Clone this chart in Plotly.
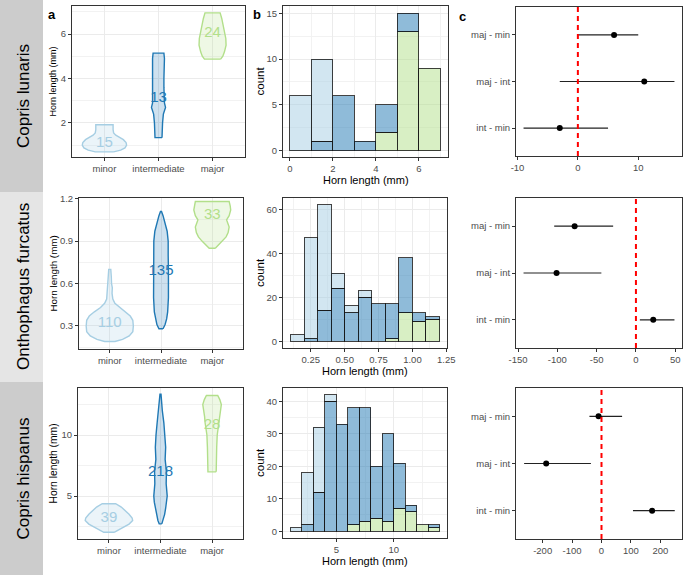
import plotly.graph_objects as go

W, H = 685, 575
FONT = "Liberation Sans, Arial, sans-serif"

species = ["Copris lunaris", "Onthophagus furcatus", "Copris hispanus"]
groups = ["minor", "intermediate", "major"]
comparisons = ["maj - min", "maj - int", "int - min"]
hist_title = "Horn length (mm)"
violin_title = "Horn length (mm)"

group_line = ["#a6cee3", "#1f78b4", "#b2df8a"]
group_fill = ["rgba(166,206,227,0.22)", "rgba(31,120,180,0.22)", "rgba(178,223,138,0.22)"]
bar_fill = ["rgba(166,206,227,0.5)", "rgba(31,120,180,0.5)", "rgba(178,223,138,0.5)"]

# ---------------- Copris lunaris ----------------
cl_n = [15, 13, 24]
cl_n_y = [1.07, 3.1, 6.05]
cl_minor_y = [0.70, 0.78, 0.88, 1.00, 1.12, 1.25, 1.35, 1.45, 1.55, 1.70, 1.92]
cl_minor_w = [0.17, 0.30, 0.38, 0.41, 0.40, 0.35, 0.28, 0.21, 0.17, 0.16, 0.16]
cl_inter_y = [1.34, 1.6, 2.0, 2.4, 2.7, 2.9, 3.2, 3.6, 4.0, 4.5, 4.9, 5.14]
cl_inter_w = [0.065, 0.065, 0.075, 0.09, 0.13, 0.11, 0.10, 0.10, 0.10, 0.11, 0.11, 0.10]
cl_major_y = [4.87, 5.0, 5.2, 5.5, 5.8, 6.1, 6.4, 6.7, 6.95]
cl_major_w = [0.15, 0.19, 0.22, 0.25, 0.245, 0.22, 0.20, 0.17, 0.14]
cl_bin_edges = [0, 1, 2, 3, 4, 5, 6, 7]
cl_hist_minor = [6, 9, 0, 0, 0, 0, 0]
cl_hist_inter = [0, 1, 6, 1, 3, 2, 0]
cl_hist_major = [0, 0, 0, 0, 2, 13, 9]
cl_est = [6, 11, -3]
cl_lo = [0, -3, -9]
cl_hi = [10, 16, 5]
cl_comp_ticks = [-10, 0, 10]

# ---------------- Onthophagus furcatus ----------------
of_n = [110, 135, 33]
of_n_y = [0.32, 0.69, 1.08]
of_minor_y = [0.19, 0.205, 0.23, 0.26, 0.30, 0.34, 0.37, 0.40, 0.43, 0.46, 0.49, 0.53, 0.57, 0.60, 0.65, 0.70]
of_minor_w = [0.10, 0.25, 0.38, 0.45, 0.46, 0.45, 0.40, 0.30, 0.18, 0.10, 0.06, 0.045, 0.05, 0.035, 0.03, 0.02]
of_inter_y = [0.28, 0.31, 0.35, 0.40, 0.50, 0.60, 0.70, 0.80, 0.90, 0.97, 1.03, 1.08, 1.11]
of_inter_w = [0.04, 0.08, 0.11, 0.13, 0.145, 0.15, 0.145, 0.14, 0.14, 0.12, 0.08, 0.04, 0.01]
of_major_y = [0.85, 0.87, 0.90, 0.93, 0.96, 1.00, 1.03, 1.05, 1.08, 1.12, 1.15, 1.18]
of_major_w = [0.06, 0.11, 0.20, 0.27, 0.31, 0.33, 0.30, 0.28, 0.33, 0.36, 0.35, 0.33]
of_bin_edges = [0.1, 0.2, 0.3, 0.4, 0.5, 0.6, 0.7, 0.8, 0.9, 1.0, 1.1, 1.2]
of_hist_minor = [3, 46, 48, 7, 3, 3, 0, 0, 0, 0, 0]
of_hist_inter = [0, 1, 14, 24, 13, 20, 17, 16, 25, 4, 1]
of_hist_major = [0, 0, 0, 0, 0, 0, 0, 1, 13, 9, 10]
of_est = [-78, -101, 22]
of_lo = [-104, -143, 5]
of_hi = [-29, -44, 49]
of_comp_ticks = [-150, -100, -50, 0, 50]

# ---------------- Copris hispanus ----------------
ch_n = [39, 218, 28]
ch_n_y = [3.19, 6.98, 10.82]
ch_minor_y = [2.03, 2.2, 2.4, 2.7, 3.0, 3.2, 3.5, 3.8, 4.1, 4.37]
ch_minor_w = [0.10, 0.17, 0.26, 0.39, 0.46, 0.45, 0.39, 0.32, 0.24, 0.13]
ch_inter_y = [2.72, 3.0, 3.5, 4.0, 4.5, 5.0, 5.5, 6.0, 7.0, 8.0, 9.0, 10.0, 11.0, 12.0, 12.8, 13.35]
ch_inter_w = [0.025, 0.05, 0.08, 0.10, 0.12, 0.13, 0.12, 0.11, 0.115, 0.09, 0.10, 0.087, 0.065, 0.035, 0.02, 0.01]
ch_major_y = [6.98, 8.0, 9.0, 10.0, 11.0, 11.5, 12.0, 12.5, 12.9, 13.24]
ch_major_w = [0.08, 0.08, 0.09, 0.10, 0.135, 0.145, 0.16, 0.18, 0.15, 0.11]
ch_bin_edges = [1, 2, 3, 4, 5, 6, 7, 8, 9, 10, 11, 12, 13, 14]
ch_hist_minor = [1, 16, 20, 2, 0, 0, 0, 0, 0, 0, 0, 0, 0]
ch_hist_inter = [0, 2, 12, 40, 33, 36, 35, 16, 27, 14, 2, 0, 1]
ch_hist_major = [0, 0, 0, 0, 0, 2, 3, 4, 3, 7, 6, 2, 1]
ch_est = [-10, -188, 172]
ch_lo = [-41, -263, 107]
ch_hi = [70, -36, 249]
ch_comp_ticks = [-200, -100, 0, 100, 200]

rows = [
    dict(n=cl_n, n_y=cl_n_y,
         prof=[(cl_minor_y, cl_minor_w), (cl_inter_y, cl_inter_w), (cl_major_y, cl_major_w)],
         edges=cl_bin_edges, hist=[cl_hist_minor, cl_hist_inter, cl_hist_major],
         est=cl_est, lo=cl_lo, hi=cl_hi, cticks=cl_comp_ticks),
    dict(n=of_n, n_y=of_n_y,
         prof=[(of_minor_y, of_minor_w), (of_inter_y, of_inter_w), (of_major_y, of_major_w)],
         edges=of_bin_edges, hist=[of_hist_minor, of_hist_inter, of_hist_major],
         est=of_est, lo=of_lo, hi=of_hi, cticks=of_comp_ticks),
    dict(n=ch_n, n_y=ch_n_y,
         prof=[(ch_minor_y, ch_minor_w), (ch_inter_y, ch_inter_w), (ch_major_y, ch_major_w)],
         edges=ch_bin_edges, hist=[ch_hist_minor, ch_hist_inter, ch_hist_major],
         est=ch_est, lo=ch_lo, hi=ch_hi, cticks=ch_comp_ticks),
]

# ---------------- layout geometry (pixels) ----------------
boxes = [
    [(72, 245, 6, 157), (283, 448, 6, 157), (516, 682, 7, 156)],
    [(79, 243, 198, 349), (283, 447, 198, 348), (516, 682, 198, 348)],
    [(78, 243, 388, 539), (283, 447, 388, 538), (516, 682, 388, 539)],
]
violin_yr = [[0.47, 7.26], [0.137, 1.205], [1.48, 13.85]]
violin_dt = [(2, 1, 0), (0.3, 0.15, 0), (5, 2.5, 0)]
hist_xr = [[-0.32, 7.36], [0.045, 1.255], [0.35, 14.65]]
hist_yr = [[-0.7, 15.8], [-3.1, 65.1], [-2.1, 44.1]]
hist_xt = [dict(dtick=2, tick0=0, minor=1), dict(dtick=0.25, tick0=0, minor=0.125), dict(dtick=5, tick0=0, minor=2.5)]
hist_yt = [(5, 2.5), (20, 10), (10, 5)]
comp_xr = [[-10.25, 17.25], [-152.6, 58.6], [-290.6, 273.6]]
strip_y = [(0, 192), (192, 382), (382, 575)]
strip_col = ["#cccccc", "#e5e5e5", "#cccccc"]
ytitle_size = [9, 9.8, 10.3]

fig = go.Figure()
layout = dict(width=W, height=H, margin=dict(l=0, r=0, t=0, b=0, autoexpand=False),
              paper_bgcolor="white", plot_bgcolor="white", showlegend=False,
              barmode="stack", font=dict(family=FONT), shapes=[], annotations=[])


def dom(b):
    l, r, t, bt = b
    return [l / W, r / W], [1 - bt / H, 1 - t / H]


def base_axis(**kw):
    d = dict(showline=True, mirror=True, linecolor="#333333", linewidth=1,
             ticks="outside", ticklen=3, tickwidth=1, tickcolor="#333333",
             tickfont=dict(size=9.5, color="#4d4d4d", family=FONT),
             zeroline=False, showgrid=True, gridcolor="#ebebeb", gridwidth=1,
             fixedrange=True, automargin=False)
    d.update(kw)
    return d


def minor(dt, t0=0):
    return dict(showgrid=True, gridcolor="#f2f2f2", gridwidth=0.6, dtick=dt, tick0=t0)


def note(text, px, py, size, angle=0):
    return dict(text=text, xref="paper", yref="paper", x=px / W, y=1 - py / H,
                xanchor="center", yanchor="middle", textangle=angle, showarrow=False,
                font=dict(size=size, color="black", family=FONT))


for r, row in enumerate(rows):
    for c in range(3):
        k = r * 3 + c + 1
        xn = "xaxis" if k == 1 else f"xaxis{k}"
        yn = "yaxis" if k == 1 else f"yaxis{k}"
        xr_ = "x" if k == 1 else f"x{k}"
        yr_ = "y" if k == 1 else f"y{k}"
        xd, yd = dom(boxes[r][c])
        if c == 0:
            d, md, t0 = violin_dt[r]
            layout[xn] = base_axis(domain=xd, anchor=yr_, range=[0.4, 3.6],
                                   tickvals=[1, 2, 3], ticktext=groups)
            layout[yn] = base_axis(domain=yd, anchor=xr_, range=violin_yr[r],
                                   dtick=d, tick0=t0, minor=minor(md, t0))
            for g in range(3):
                ys, ws = row["prof"][g]
                cx = g + 1
                xs = [cx + w for w in ws] + [cx - w for w in reversed(ws)] + [cx + ws[0]]
                yy = list(ys) + list(reversed(ys)) + [ys[0]]
                fig.add_trace(go.Scatter(x=xs, y=yy, mode="lines", fill="toself",
                                         fillcolor=group_fill[g],
                                         line=dict(color=group_line[g], width=1.4),
                                         xaxis=xr_, yaxis=yr_, hoverinfo="skip"))
            fig.add_trace(go.Scatter(x=[1, 2, 3], y=row["n_y"], mode="text",
                                     text=[str(v) for v in row["n"]],
                                     textfont=dict(size=15, color=group_line, family=FONT),
                                     xaxis=xr_, yaxis=yr_, hoverinfo="skip"))
        elif c == 1:
            xt = hist_xt[r]
            xkw = dict(dtick=xt["dtick"], tick0=xt["tick0"], minor=minor(xt["minor"]))
            if r == 1:
                xkw = dict(tickvals=[0.25, 0.5, 0.75, 1.0, 1.25],
                           ticktext=["0.25", "0.50", "0.75", "1.00", "1.25"],
                           minor=minor(0.125))
            layout[xn] = base_axis(domain=xd, anchor=yr_, range=hist_xr[r], **xkw)
            layout[yn] = base_axis(domain=yd, anchor=xr_, range=hist_yr[r],
                                   dtick=hist_yt[r][0], tick0=0, minor=minor(hist_yt[r][1]))
            edges = row["edges"]
            bw = edges[1] - edges[0]
            for g in [2, 1, 0]:
                counts = row["hist"][g]
                xs = [(edges[i] + edges[i + 1]) / 2 for i in range(len(counts)) if counts[i] > 0]
                ys = [cnt for cnt in counts if cnt > 0]
                fig.add_trace(go.Bar(x=xs, y=ys, width=bw, marker=dict(
                    color=bar_fill[g], line=dict(color="rgba(20,20,20,0.8)", width=1)),
                    xaxis=xr_, yaxis=yr_, hoverinfo="skip"))
        else:
            layout[xn] = base_axis(domain=xd, anchor=yr_, range=comp_xr[r],
                                   tickvals=row["cticks"], ticktext=[str(v) for v in row["cticks"]],
                                   showgrid=False)
            layout[yn] = base_axis(domain=yd, anchor=xr_, range=[0.4, 3.6],
                                   tickvals=[3, 2, 1], ticktext=comparisons, showgrid=False)
            est, lo, hi = row["est"], row["lo"], row["hi"]
            layout["shapes"].append(dict(type="line", xref=xr_, yref=f"{yr_} domain",
                                         x0=0, x1=0, y0=0, y1=1,
                                         line=dict(color="red", width=2, dash="5px,4px")))
            fig.add_trace(go.Scatter(x=est, y=[3, 2, 1], mode="markers",
                                     marker=dict(color="black", size=6),
                                     error_x=dict(type="data", symmetric=False,
                                                  array=[h - e for h, e in zip(hi, est)],
                                                  arrayminus=[e - l for e, l in zip(est, lo)],
                                                  width=0, thickness=1.2, color="#222222"),
                                     xaxis=xr_, yaxis=yr_, hoverinfo="skip"))

    # strip on the left
    y0, y1 = strip_y[r]
    layout["shapes"].append(dict(type="rect", xref="paper", yref="paper", layer="below",
                                 x0=0, x1=43 / W, y0=1 - y1 / H, y1=1 - y0 / H,
                                 fillcolor=strip_col[r], line=dict(width=0)))
    layout["annotations"].append(note(species[r], 23, (y0 + y1) / 2, 17, -90))
    # axis titles
    ba, bb = boxes[r][0], boxes[r][1]
    layout["annotations"].append(note(violin_title, 53, (ba[2] + ba[3]) / 2, ytitle_size[r], -90))
    layout["annotations"].append(note("count", 260, (bb[2] + bb[3]) / 2, 11.5, -90))
    layout["annotations"].append(note(hist_title, (bb[0] + bb[1]) / 2, bb[3] + 23, 11))

for lab, px, py in [("a", 52, 15), ("b", 257, 15), ("c", 462, 16)]:
    layout["annotations"].append(note(f"<b>{lab}</b>", px, py, 13))

fig.update_layout(**layout)
fig.write_html("out.html", config={"displayModeBar": False},
               post_script="document.body.style.margin='0';document.body.style.padding='0';")
